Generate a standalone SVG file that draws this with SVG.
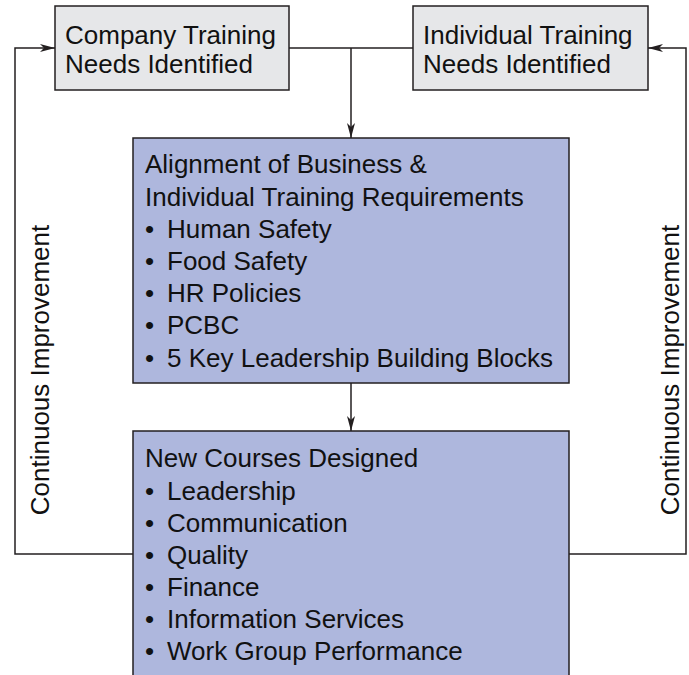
<svg xmlns="http://www.w3.org/2000/svg" width="689" height="675" viewBox="0 0 689 675">
  <defs>
    <marker id="arr" viewBox="0 0 15 8" refX="15" refY="4" markerWidth="15" markerHeight="8" markerUnits="userSpaceOnUse" orient="auto">
      <path d="M0,0 L15,4 L0,8 L4,4 z" fill="#231f20"/>
    </marker>
  </defs>
  <style>
    text { font-family: "Liberation Sans", Arial, Helvetica, sans-serif; font-size: 26px; fill: #111; }
    .gray { fill: #e6e7e9; stroke: #231f20; stroke-width: 1.5; }
    .blue { fill: #aeb7dd; stroke: #231f20; stroke-width: 1.5; }
    .conn { fill: none; stroke: #231f20; stroke-width: 1.5; }
  </style>
  <rect width="689" height="675" fill="#fff"/>
  <g id="connectors">
    <path class="conn" d="M289,48 H413"/>
    <path class="conn" d="M351,48 V138" marker-end="url(#arr)"/>
    <path class="conn" d="M351,383 V431" marker-end="url(#arr)"/>
    <path class="conn" d="M133,554 H15 V48 H55" marker-end="url(#arr)"/>
    <path class="conn" d="M569,554 H686 V48 H648" marker-end="url(#arr)"/>
  </g>
  <g id="company">
    <rect class="gray" x="55" y="6" width="234" height="84"/>
    <text x="65" y="44">Company Training</text>
    <text x="65" y="73">Needs Identified</text>
  </g>
  <g id="individual">
    <rect class="gray" x="413" y="6" width="235" height="84"/>
    <text x="423" y="44">Individual Training</text>
    <text x="423" y="73">Needs Identified</text>
  </g>
  <g id="alignment">
    <rect class="blue" x="133" y="138" width="436" height="245"/>
    <text x="145" y="173">Alignment of Business &amp;</text>
    <text x="145" y="206">Individual Training Requirements</text>
    <text y="238"><tspan x="145">•</tspan><tspan x="167">Human Safety</tspan></text>
    <text y="270"><tspan x="145">•</tspan><tspan x="167">Food Safety</tspan></text>
    <text y="302"><tspan x="145">•</tspan><tspan x="167">HR Policies</tspan></text>
    <text y="334"><tspan x="145">•</tspan><tspan x="167">PCBC</tspan></text>
    <text y="367"><tspan x="145">•</tspan><tspan x="167">5 Key Leadership Building Blocks</tspan></text>
  </g>
  <g id="courses">
    <rect class="blue" x="133" y="431" width="436" height="260"/>
    <text x="145" y="467">New Courses Designed</text>
    <text y="500"><tspan x="145">•</tspan><tspan x="167">Leadership</tspan></text>
    <text y="532"><tspan x="145">•</tspan><tspan x="167">Communication</tspan></text>
    <text y="564"><tspan x="145">•</tspan><tspan x="167">Quality</tspan></text>
    <text y="596"><tspan x="145">•</tspan><tspan x="167">Finance</tspan></text>
    <text y="628"><tspan x="145">•</tspan><tspan x="167">Information Services</tspan></text>
    <text y="660"><tspan x="145">•</tspan><tspan x="167">Work Group Performance</tspan></text>
  </g>
  <g id="ci-left">
    <text transform="translate(49,370) rotate(-90)" text-anchor="middle">Continuous Improvement</text>
  </g>
  <g id="ci-right">
    <text transform="translate(679,370) rotate(-90)" text-anchor="middle">Continuous Improvement</text>
  </g>
</svg>
